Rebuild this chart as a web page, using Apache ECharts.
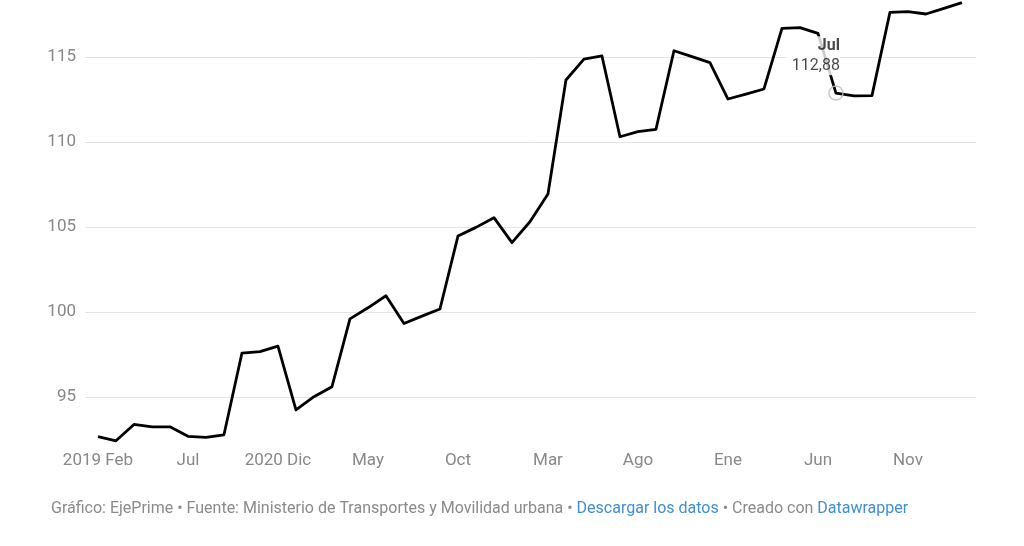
<!DOCTYPE html>
<html>
<head>
<meta charset="utf-8">
<script src="https://cdn.jsdelivr.net/npm/echarts@6/dist/echarts.min.js"></script>
<style>
html,body{margin:0;padding:0;background:#fff;}
#chart{width:1024px;height:546px;}
</style>
</head>
<body>
<div id="chart"></div>
<script>
// Monthly categories (Feb 2019 ... Feb 2023)
var months = ["Feb","Mar","Abr","May","Jun","Jul","Ago","Sep","Oct","Nov","Dic","Ene",
  "Feb","Mar","Abr","May","Jun","Jul","Ago","Sep","Oct","Nov","Dic","Ene",
  "Feb","Mar","Abr","May","Jun","Jul","Ago","Sep","Oct","Nov","Dic","Ene",
  "Feb","Mar","Abr","May","Jun","Jul","Ago","Sep","Oct","Nov","Dic","Ene","Feb"];
var values = [92.67,92.43,93.39,93.25,93.25,92.69,92.63,92.78,97.59,97.67,
  98.00,94.24,95.02,95.61,99.60,100.25,100.96,99.33,99.76,100.18,
  104.47,104.98,105.55,104.08,105.31,106.94,113.65,114.88,115.06,110.31,
  110.61,110.75,115.37,115.02,114.67,112.53,112.82,113.12,116.69,116.73,
  116.39,112.88,112.71,112.73,117.63,117.67,117.53,117.86,118.20];
var tickIndexes = [0,5,10,15,20,25,30,35,40,45];
var tickLabels = ["2019 Feb","Jul","2020 Dic","May","Oct","Mar","Ago","Ene","Jun","Nov"];
var highlightIndex = 41;
var highlightLabel = "112,88";

var lineData = values.map(function(v,i){ return [i, v]; });
var chart = echarts.init(document.getElementById('chart'), null, {renderer:'canvas'});
var font = 'Roboto, "Noto Sans", sans-serif';
chart.setOption({
  animation:false,
  backgroundColor:'#fff',
  textStyle:{fontFamily:font},
  title:{
    left:51, top:499, padding:0,
    text:'{g|Gráfico: EjePrime • Fuente: Ministerio de Transportes y Movilidad urbana • }{l|Descargar los datos}{g| • Creado con }{l|Datawrapper}',
    textStyle:{
      fontFamily:font, fontWeight:'normal',
      rich:{
        g:{fontFamily:font,fontSize:16,fontWeight:'normal',color:'#8a8a8a',lineHeight:20},
        l:{fontFamily:font,fontSize:16,fontWeight:'normal',color:'#3f8fd2',lineHeight:20}
      }
    }
  },
  grid:{left:85, right:48, top:0, bottom:102, containLabel:false},
  xAxis:{
    type:'value', min:-0.72, max:48.78,
    axisLine:{show:false}, axisTick:{show:false}, splitLine:{show:false},
    axisLabel:{
      customValues:tickIndexes,
      margin:8, fontSize:17, color:'#888888', fontFamily:font,
      formatter:function(v){ var k = tickIndexes.indexOf(Math.round(v)); return k>=0 ? tickLabels[k] : ''; }
    }
  },
  yAxis:{
    type:'value', min:92.24, max:118.353, splitNumber:5,
    axisLine:{show:false}, axisTick:{show:false},
    axisLabel:{margin:9, fontSize:17, color:'#888888', fontFamily:font, showMinLabel:false, showMaxLabel:false},
    splitLine:{show:true, showMinLine:false, showMaxLine:false, lineStyle:{color:'#e3e3e3', width:1}}
  },
  series:[
    {
      type:'line', data:lineData, showSymbol:false, symbol:'none',
      lineStyle:{color:'#000', width:2.8, join:'round'}, z:2
    },
    {
      type:'scatter', z:10,
      data:[[highlightIndex, values[highlightIndex]]],
      symbol:'circle', symbolSize:14,
      itemStyle:{color:'rgba(255,255,255,0)', borderColor:'#bdbdbd', borderWidth:1.5},
      label:{
        show:true, position:'top', distance:0, align:'right', offset:[4,-10],
        backgroundColor:'#fff', padding:[0,0,0,6],
        formatter:function(){ return '{a|' + months[highlightIndex] + '}\n{b|' + highlightLabel + '}'; },
        rich:{
          a:{fontFamily:font, fontSize:16, fontWeight:'bold', color:'#1a1a1a', lineHeight:19.5, align:'right'},
          b:{fontFamily:font, fontSize:16, color:'#1a1a1a', lineHeight:19.5, align:'right'}
        }
      }
    }
  ]
});
</script>
</body>
</html>
